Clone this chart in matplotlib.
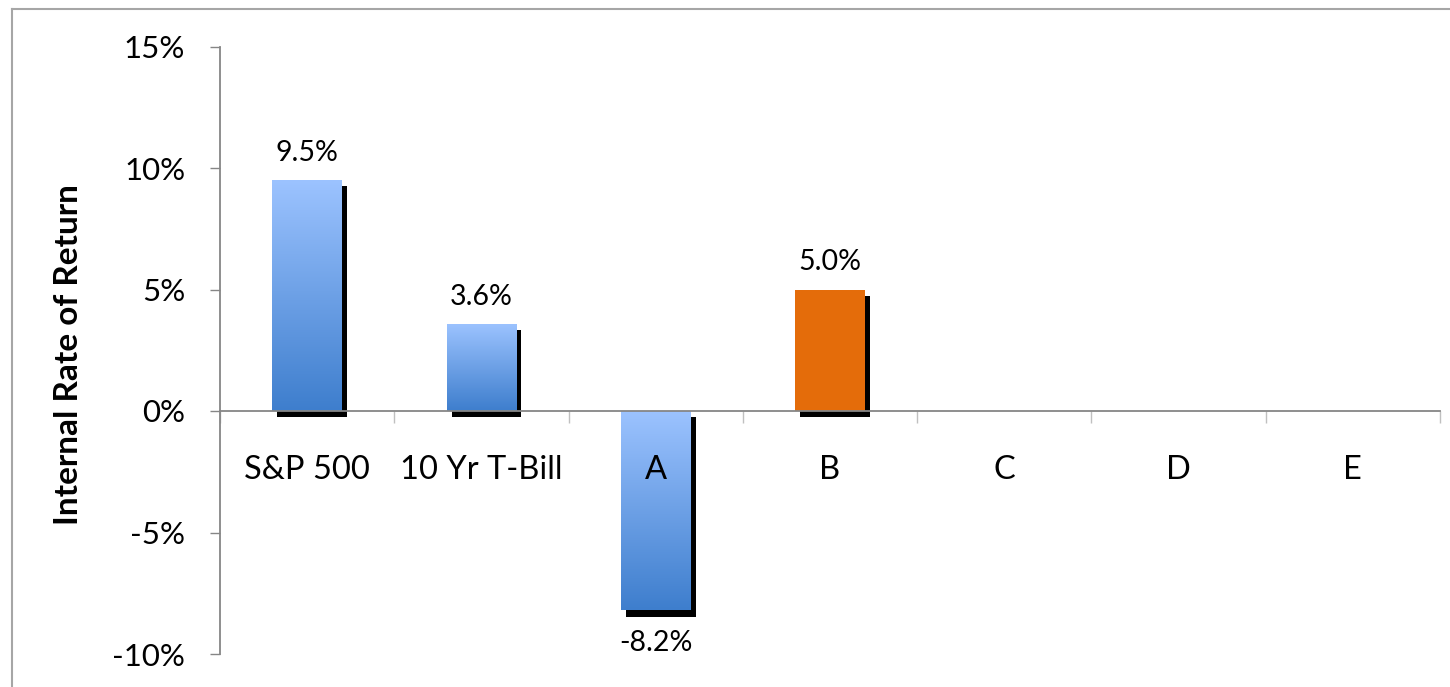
import numpy as np
import matplotlib
matplotlib.use("Agg")
import matplotlib.pyplot as plt
import matplotlib.patheffects as pe
from matplotlib.lines import Line2D
from matplotlib.colors import to_rgb

categories = ["S&P 500", "10 Yr T-Bill", "A", "B", "C", "D", "E"]
values = [9.5, 3.6, -8.2, 5.0, np.nan, np.nan, np.nan]
bar_styles = ["gradient", "gradient", "gradient", "orange", None, None, None]
y_ticks = [-10, -5, 0, 5, 10, 15]
y_tick_labels = ["-10%", "-5%", "0%", "5%", "10%", "15%"]
y_label = "Internal Rate of Return"

FONT = ["Lato", "DejaVu Sans"]
plt.rcParams["font.family"] = FONT

W, H = 1450, 687
fig = plt.figure(figsize=(W / 100, H / 100), dpi=100)
ax = fig.add_axes([220 / W, 33 / H, 1220 / W, (654 - 46.5) / H])

axis_gray = "#868686"
top_col = np.array(to_rgb("#9CC3FF"))
bot_col = np.array(to_rgb("#3E7ECD"))
orange = "#E46C0A"

x = np.arange(len(categories))
width = 0.4
shadow = [pe.SimplePatchShadow(offset=(3.6, -4.5), shadow_rgbFace="black", alpha=1.0), pe.Normal()]

grad = np.linspace(0, 1, 256)[:, None]
grad_img = top_col[None, None, :] * (1 - grad[:, :, None]) + bot_col[None, None, :] * grad[:, :, None]

for xi, v, st in zip(x, values, bar_styles):
    if v is None or np.isnan(v):
        continue
    fc = orange if st == "orange" else bot_col
    bars = ax.bar(xi, v, width, color=fc, zorder=2, linewidth=0)
    patch = bars[0]
    patch.set_path_effects(shadow)
    if st == "gradient":
        lo, hi = min(0, v), max(0, v)
        im = ax.imshow(grad_img, extent=(xi - width / 2, xi + width / 2, lo, hi),
                       origin="upper", aspect="auto", zorder=3, interpolation="bilinear")
        im.set_clip_path(patch)
    off = 27 if v >= 0 else -33
    ax.annotate(f"{v:.1f}%", (xi, v), xytext=(0, off), textcoords="offset pixels",
                ha="center", va="center", fontsize=20.5, color="black", zorder=5)

for xi, c in zip(x, categories):
    ax.annotate(c, (xi, 0), xytext=(0, -59), textcoords="offset pixels",
                ha="center", va="center", fontsize=23.5, color="black", zorder=6)

ax.set_xlim(-0.5, len(categories) - 0.5)
ax.set_ylim(-10, 15)

ax.spines["top"].set_visible(False)
ax.spines["right"].set_visible(False)
ax.spines["bottom"].set_position(("data", 0))
for s in ("left", "bottom"):
    ax.spines[s].set_color(axis_gray)
    ax.spines[s].set_linewidth(1.3)
    ax.spines[s].set_zorder(4)

ax.set_xticks(np.arange(-0.5, len(categories), 1.0))
ax.set_xticklabels([])
ax.tick_params(axis="x", direction="out", length=8.5, width=1.0, color="#C0C0C0")

ax.set_yticks(y_ticks)
ax.set_yticklabels(y_tick_labels)
ax.tick_params(axis="y", direction="out", length=7, width=1.0, color=axis_gray,
               labelsize=22.5, pad=18)

fig.text(69 / W, 1 - 355 / H, y_label, rotation=90, ha="center", va="center",
         fontsize=24, fontweight="bold", color="black")

border_c = "#A6A6A6"
fig.add_artist(Line2D([12 / W, 12 / W], [0, 1 - 9 / H], color=border_c, lw=1.5,
                      transform=fig.transFigure))
fig.add_artist(Line2D([12 / W, 1], [1 - 9 / H, 1 - 9 / H], color=border_c, lw=1.5,
                      transform=fig.transFigure))

fig.savefig("out.png", dpi=100, facecolor="white")
